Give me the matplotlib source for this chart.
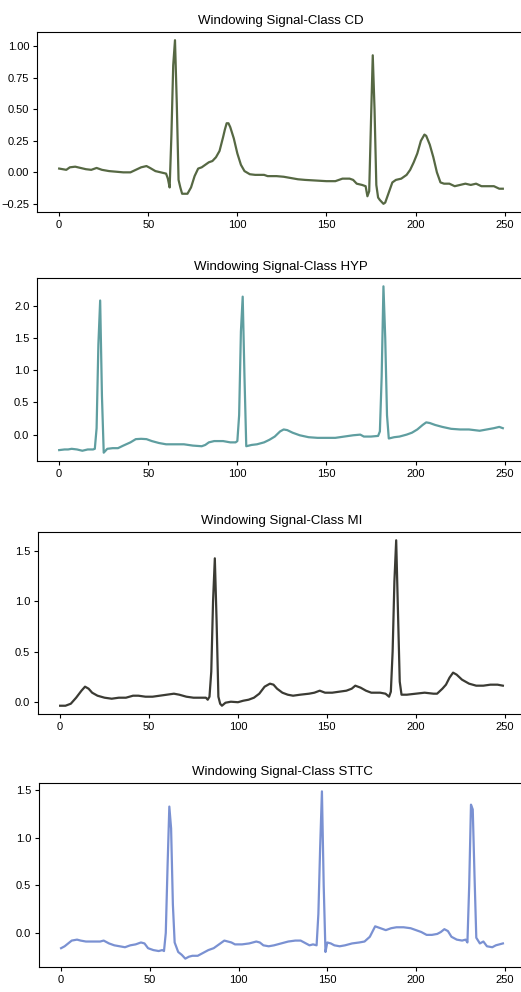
import matplotlib
matplotlib.use("Agg")
import matplotlib.pyplot as plt

plt.rcParams['font.family'] = ['Liberation Sans', 'DejaVu Sans']

# key samples (sample index, amplitude)
cd_x = [0, 2, 4, 6, 9, 12, 15, 18, 21, 24, 28, 32, 36, 40, 43, 46, 49, 51, 54, 57, 60, 61, 62, 63, 64, 65, 66, 67, 68, 69,
        72, 74, 76, 78, 80, 82, 84, 86, 88, 90, 92, 93, 94, 95, 96, 98, 100, 102, 104, 107, 110, 115, 117, 122, 126, 130,
        134, 138, 144, 150, 155, 157, 159, 163, 165, 167, 170, 172, 173, 174, 175, 176, 177, 178, 179, 180, 182, 183, 185,
        187, 189, 192, 195, 197, 199, 201, 203, 205, 206, 208, 210, 212, 214, 216, 219, 222, 225, 228, 231, 234, 237, 241,
        244, 247, 249]
cd_y = [0.03, 0.025, 0.02, 0.04, 0.045, 0.035, 0.025, 0.02, 0.035, 0.02, 0.01, 0.005, 0.0, 0.0, 0.02, 0.04, 0.05, 0.035,
        0.01, 0.0, -0.01, -0.05, -0.12, 0.3, 0.85, 1.05, 0.55, -0.06, -0.12, -0.17,
        -0.17, -0.12, -0.03, 0.03, 0.04, 0.06, 0.08, 0.09, 0.12, 0.17, 0.28, 0.34, 0.39, 0.39, 0.36, 0.27, 0.15, 0.06, 0.01,
        -0.015, -0.02, -0.02, -0.03, -0.03, -0.035, -0.045,
        -0.055, -0.06, -0.065, -0.07, -0.07, -0.06, -0.05, -0.05, -0.06, -0.09, -0.10, -0.11, -0.19, -0.15, 0.4, 0.93, 0.5,
        -0.1, -0.2, -0.22, -0.25, -0.24, -0.16,
        -0.08, -0.06, -0.05, -0.02, 0.02, 0.08, 0.15, 0.25, 0.30, 0.29, 0.22, 0.12, 0.0, -0.08, -0.09, -0.09, -0.11, -0.10,
        -0.09, -0.10, -0.09, -0.11, -0.11,
        -0.11, -0.13, -0.13]

hyp_x = [0, 3, 5, 7, 10, 13, 16, 19, 20, 21, 22, 23, 24, 25, 27, 30, 33, 36, 40, 43, 46, 49, 52, 56, 60, 65, 70, 75, 80,
         82, 84, 87, 92, 96, 99, 100, 101, 102, 103, 104, 105, 108, 111, 115, 118, 121, 124, 126, 128, 131, 135, 140, 145,
         150, 155, 160, 165, 169, 171, 175, 179, 180, 181, 182, 183, 184, 185, 188, 191, 195, 198, 201, 204, 206, 208, 211,
         215, 220, 225, 230, 233, 236, 240, 244, 247, 249]
hyp_y = [-0.24, -0.23, -0.23, -0.22, -0.23, -0.25, -0.23, -0.23, -0.22, 0.1, 1.4, 2.08, 0.6, -0.28, -0.22, -0.21, -0.21,
         -0.17, -0.12, -0.07, -0.065, -0.07, -0.10, -0.13, -0.15, -0.15, -0.15, -0.17, -0.18,
         -0.16, -0.12, -0.10, -0.10, -0.12, -0.12, -0.10, 0.3, 1.6, 2.14, 0.9, -0.18, -0.16, -0.15, -0.12, -0.08, -0.03,
         0.05, 0.08, 0.07, 0.03, -0.01, -0.04, -0.05,
         -0.05, -0.05, -0.03, -0.01, 0.0, -0.03, -0.03, -0.02, 0.05, 0.9, 2.30, 1.5, 0.3, -0.06, -0.04, -0.03, 0.0, 0.03,
         0.08, 0.15, 0.19, 0.18, 0.15,
         0.12, 0.09, 0.08, 0.08, 0.07, 0.06, 0.08, 0.10, 0.12, 0.10]

mi_x = [0, 3, 6, 9, 12, 14, 16, 18, 21, 25, 29, 33, 37, 41, 44, 48, 52, 56, 60, 64, 67, 71, 75, 79, 82, 83, 84, 85, 86,
        87, 88, 89, 90, 91, 93, 96, 100, 103, 106, 109, 112, 115, 118, 120, 122, 125, 128, 131, 135, 140, 143, 146, 149,
        153, 157, 161, 164, 166, 169, 172, 175, 180, 183, 185, 186, 187, 188, 189, 190, 191, 192, 195, 200, 205, 210, 212,
        215, 217, 219, 221, 223, 226, 230, 234, 238, 242, 246, 249]
mi_y = [-0.04, -0.04, -0.02, 0.04, 0.11, 0.15, 0.13, 0.09, 0.06, 0.04, 0.03, 0.04, 0.04, 0.06, 0.06, 0.05, 0.05, 0.06,
        0.07, 0.08, 0.07, 0.05, 0.04, 0.04, 0.04, 0.02, 0.05, 0.3, 1.0,
        1.43, 0.8, 0.05, -0.02, -0.04, -0.01, 0.0, -0.005, 0.01, 0.02, 0.04, 0.08, 0.15, 0.18, 0.17, 0.13, 0.09, 0.07,
        0.06, 0.07, 0.08, 0.09, 0.11, 0.09,
        0.09, 0.10, 0.11, 0.13, 0.16, 0.14, 0.11, 0.09, 0.09, 0.08, 0.05, 0.1, 0.5, 1.2, 1.61, 0.9, 0.2, 0.07, 0.07, 0.08,
        0.09, 0.08, 0.08,
        0.13, 0.17, 0.24, 0.29, 0.27, 0.22, 0.18, 0.16, 0.16, 0.17, 0.17, 0.16]

sttc_x = [0, 2, 4, 6, 9, 11, 14, 18, 22, 24, 27, 30, 33, 36, 39, 42, 45, 47, 49, 52, 55, 57, 58, 59, 60, 61, 62, 63, 64,
          66, 68, 70, 72, 74, 77, 80, 83, 86, 89, 92, 94, 96, 98, 102, 106, 110, 112, 114, 117, 120, 124, 128, 132, 135,
          137, 140, 142, 144, 145, 146, 147, 148, 149, 150, 152, 154, 157, 160, 164, 168, 171, 174, 177, 180, 183, 186,
          189, 193, 197, 200, 203, 206, 209, 212, 214, 216, 218, 220, 223, 226, 228, 229, 230, 231, 232, 233, 234, 236,
          238, 240, 243, 245, 247, 249]
sttc_y = [-0.16, -0.14, -0.11, -0.08, -0.07, -0.08, -0.09, -0.09, -0.09, -0.08, -0.11, -0.13, -0.14, -0.15, -0.13,
          -0.12, -0.10, -0.11, -0.16, -0.18, -0.19, -0.18, -0.19, 0.0, 0.7, 1.33, 1.1, 0.3, -0.1,
          -0.2, -0.23, -0.27, -0.25, -0.24, -0.24, -0.21, -0.18, -0.16, -0.12, -0.08, -0.09, -0.10, -0.12, -0.12, -0.11,
          -0.09, -0.10, -0.13, -0.14, -0.13, -0.11, -0.09, -0.08, -0.08,
          -0.10, -0.13, -0.12, -0.13, 0.2, 0.9, 1.49, 0.5, -0.2, -0.1, -0.11, -0.13, -0.14, -0.13, -0.11, -0.10, -0.09,
          -0.04, 0.07, 0.05, 0.03, 0.05,
          0.06, 0.06, 0.05, 0.03, 0.01, -0.02, -0.02, -0.01, 0.01, 0.04, 0.02, -0.04, -0.07, -0.08, -0.07, -0.1, 0.5,
          1.35, 1.3, 0.6, -0.05, -0.11,
          -0.09, -0.14, -0.15, -0.13, -0.12, -0.11]

classes = ['CD', 'HYP', 'MI', 'STTC']
colors = ['#566843', '#5f9ea0', '#3b3b34', '#7a91d2']
yticks = [[-0.25, 0.0, 0.25, 0.5, 0.75, 1.0],
          [0.0, 0.5, 1.0, 1.5, 2.0],
          [0.0, 0.5, 1.0, 1.5],
          [0.0, 0.5, 1.0, 1.5]]
series = [(cd_x, cd_y), (hyp_x, hyp_y), (mi_x, mi_y), (sttc_x, sttc_y)]

fig = plt.figure(figsize=(5.21, 9.92), dpi=100)
# axes boxes in pixels: left, top, bottom (right side runs past the image edge)
boxes = [(37, 32, 212), (37, 278, 461), (38, 532, 714), (39, 783, 967)]

for i, (xs, ys) in enumerate(series):
    l, t, b = boxes[i]
    ax = fig.add_axes([l / 521, 1 - b / 992, (525 - l) / 521, (b - t) / 992])
    ax.plot(xs, ys, color=colors[i], lw=1.6)
    ax.set_xlim(-12.45, 261.45)
    ax.set_xticks([0, 50, 100, 150, 200, 250])
    ax.set_yticks(yticks[i])
    if i == 0:
        ax.set_yticklabels(['−0.25', '0.00', '0.25', '0.50', '0.75', '1.00'])
    ax.tick_params(labelsize=8, length=3, pad=2.5)
    ax.set_title('Windowing Signal-Class ' + classes[i], fontsize=9.5)

fig.savefig('out.png', dpi=100)
